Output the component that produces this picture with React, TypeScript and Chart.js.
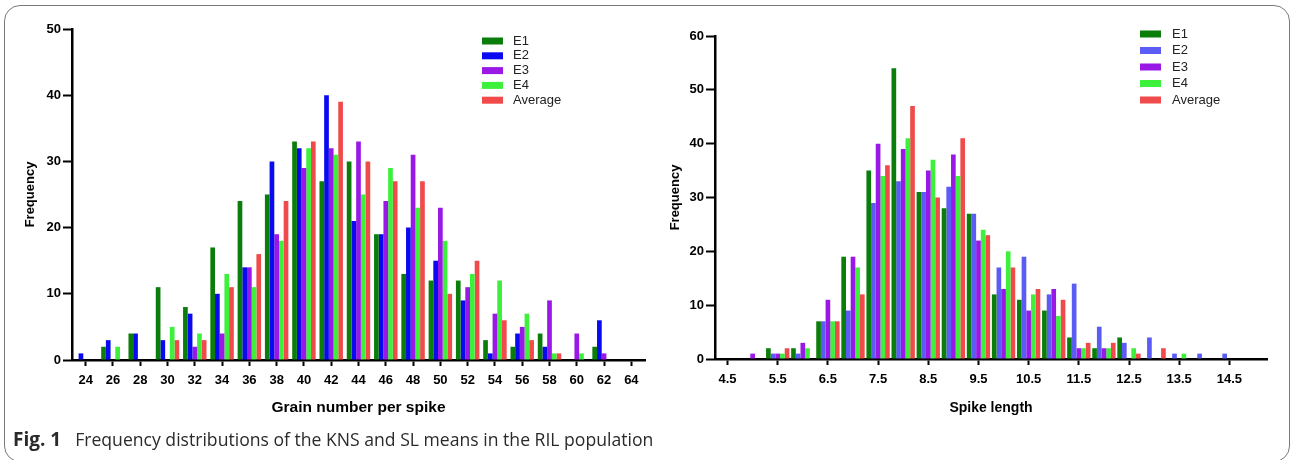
import React, { useEffect, useRef } from 'react';
import { Chart, registerables } from 'chart.js';

Chart.register(...registerables);

// ---------- Data: grain number per spike (KNS) ----------
const kernelCategories = ['24', '26', '28', '30', '32', '34', '36', '38', '40', '42', '44', '46', '48', '50', '52', '54', '56', '58', '60', '62', '64'];
const kernelE1 = [0, 2, 4, 11, 8, 17, 24, 25, 33, 27, 30, 19, 13, 12, 12, 3, 2, 4, 0, 2, 0];
const kernelE2 = [1, 3, 4, 3, 7, 10, 14, 30, 32, 40, 21, 19, 20, 15, 9, 1, 4, 2, 0, 6, 0];
const kernelE3 = [0, 0, 0, 0, 2, 4, 14, 19, 29, 32, 33, 24, 31, 23, 11, 7, 5, 9, 4, 1, 0];
const kernelE4 = [0, 2, 0, 5, 4, 13, 11, 18, 32, 31, 25, 29, 23, 18, 13, 12, 7, 1, 1, 0, 0];
const kernelAvg = [0, 0, 0, 3, 3, 11, 16, 24, 33, 39, 30, 27, 27, 10, 15, 6, 3, 1, 0, 0, 0];

// ---------- Data: spike length (SL) ----------
const spikeCategories = ['4.5', '5.0', '5.5', '6.0', '6.5', '7.0', '7.5', '8.0', '8.5', '9.0', '9.5', '10.0', '10.5', '11.0', '11.5', '12.0', '12.5', '13.0', '13.5', '14.0', '14.5', '15.0'];
const spikeE1 = [0, 0, 2, 2, 7, 19, 35, 54, 31, 28, 27, 12, 11, 9, 4, 2, 4, 0, 0, 0, 0, 0];
const spikeE2 = [0, 0, 1, 1, 7, 9, 29, 33, 31, 32, 27, 17, 19, 12, 14, 6, 3, 4, 1, 1, 1, 0];
const spikeE3 = [0, 1, 1, 3, 11, 19, 40, 39, 35, 38, 22, 13, 9, 13, 2, 2, 0, 0, 0, 0, 0, 0];
const spikeE4 = [0, 0, 1, 2, 7, 17, 34, 41, 37, 34, 24, 20, 12, 8, 2, 2, 2, 0, 1, 0, 0, 0];
const spikeAvg = [0, 0, 2, 0, 7, 12, 36, 47, 30, 41, 23, 17, 13, 11, 3, 3, 1, 2, 0, 0, 0, 0];

const seriesNames = ['E1', 'E2', 'E3', 'E4', 'Average'];
const kernelColors = ['#0a7d0a', '#0a0af0', '#9a18e6', '#3cf03c', '#f04a4a'];
const spikeColors = ['#0a7d0a', '#5b5bf5', '#9a18e6', '#3cf03c', '#f04a4a'];

const captionBold = 'Fig. 1';
const captionText = 'Frequency distributions of the KNS and SL means in the RIL population';

const FAMILY = '"Liberation Sans", Arial, sans-serif';

const boxLegend = {
  id: 'boxLegend',
  afterDraw(chart: any, _args: any, opts: any) {
    const { ctx } = chart;
    ctx.save();
    ctx.font = opts.font;
    ctx.textBaseline = 'middle';
    ctx.textAlign = 'left';
    chart.data.datasets.forEach((ds: any, i: number) => {
      const y = opts.y + i * opts.spacing;
      ctx.fillStyle = ds.backgroundColor;
      ctx.fillRect(opts.x, y - opts.boxH / 2, opts.boxW, opts.boxH);
      ctx.fillStyle = opts.color;
      ctx.fillText(ds.label, opts.x + opts.textGap, y);
    });
    ctx.restore();
  },
};

function makeConfig(p: {
  labels: string[];
  series: number[][];
  colors: string[];
  yMax: number;
  xTitle: string;
  xTitleSize: number;
  everyOther: boolean;
  catPct: number;
  padding: any;
  yWidth: number;
  xHeight: number;
  yTitlePad: number;
  legend: any;
}) {
  const tickFont = { family: FAMILY, size: 13, weight: 'bold' as const };
  return {
    type: 'bar' as const,
    data: {
      labels: p.labels,
      datasets: p.series.map((d, i) => ({
        label: seriesNames[i],
        data: d,
        backgroundColor: p.colors[i],
        borderWidth: 0,
        barPercentage: 1,
        categoryPercentage: p.catPct,
      })),
    },
    options: {
      animation: false as const,
      responsive: false,
      layout: { padding: p.padding },
      plugins: {
        legend: { display: false },
        tooltip: { enabled: false },
        boxLegend: p.legend,
      },
      scales: {
        x: {
          offset: true,
          grid: {
            offset: false,
            drawOnChartArea: false,
            tickLength: 6,
            tickWidth: 2,
            tickColor: (ctx: any) => (!p.everyOther || ctx.index % 2 === 0 ? '#000' : 'rgba(0,0,0,0)'),
          },
          border: { color: '#000', width: 2.5 },
          ticks: {
            autoSkip: false,
            maxRotation: 0,
            padding: 7,
            color: '#000',
            font: tickFont,
            callback: function (this: any, _v: any, i: number) {
              if (p.everyOther && i % 2 !== 0) return '';
              return p.labels[i];
            },
          },
          title: {
            display: true,
            text: p.xTitle,
            color: '#000',
            font: { family: FAMILY, size: p.xTitleSize, weight: 'bold' as const },
            padding: { top: 4, bottom: 13 },
          },
          afterFit: (scale: any) => {
            scale.height = p.xHeight;
          },
        },
        y: {
          min: 0,
          max: p.yMax,
          grid: { drawOnChartArea: false, tickLength: 9, tickWidth: 2, tickColor: '#000' },
          border: { color: '#000', width: 2.5 },
          ticks: { stepSize: 10, padding: 2, color: '#000', font: tickFont },
          title: {
            display: true,
            text: 'Frequency',
            color: '#000',
            font: { family: FAMILY, size: 13, weight: 'bold' as const },
            padding: { top: p.yTitlePad, bottom: 0 },
          },
          afterFit: (scale: any) => {
            scale.width = p.yWidth;
          },
        },
      },
    },
    plugins: [boxLegend],
  };
}

function ChartCanvas({ config, left, top, width, height }: any) {
  const ref = useRef<HTMLCanvasElement | null>(null);
  useEffect(() => {
    const chart = new Chart(ref.current as HTMLCanvasElement, config as any);
    return () => chart.destroy();
  }, []);
  return (
    <canvas
      ref={ref}
      width={width}
      height={height}
      style={{ position: 'absolute', left, top, width, height }}
    />
  );
}

export default function App() {
  const legendFont = '13px "Liberation Sans", Arial, sans-serif';
  const leftConfig = makeConfig({
    labels: kernelCategories,
    series: [kernelE1, kernelE2, kernelE3, kernelE4, kernelAvg],
    colors: kernelColors,
    yMax: 50,
    xTitle: 'Grain number per spike',
    xTitleSize: 15.5,
    everyOther: false,
    catPct: 0.86,
    padding: { left: 0, top: 29, right: 15, bottom: 0 },
    yWidth: 72,
    xHeight: 70,
    yTitlePad: 23,
    legend: { x: 482, y: 41, spacing: 14.8, boxW: 21, boxH: 7, textGap: 31, font: legendFont, color: '#222' },
  });
  const rightConfig = makeConfig({
    labels: spikeCategories,
    series: [spikeE1, spikeE2, spikeE3, spikeE4, spikeAvg],
    colors: spikeColors,
    yMax: 60,
    xTitle: 'Spike length',
    xTitleSize: 14,
    everyOther: true,
    catPct: 0.93,
    padding: { left: 0, top: 36, right: 23, bottom: 0 },
    yWidth: 65,
    xHeight: 71,
    yTitlePad: 18,
    legend: { x: 490, y: 34, spacing: 16.5, boxW: 21, boxH: 7, textGap: 32, font: legendFont, color: '#222' },
  });

  return (
    <div style={{ position: 'fixed', left: 0, top: 0, width: 1290, height: 460, background: '#fff', overflow: 'hidden' }}>
      <div
        style={{
          position: 'absolute',
          left: 4,
          top: 5,
          width: 1286,
          height: 457,
          border: '1.5px solid #7a7a7a',
          borderRadius: 16,
          boxSizing: 'border-box',
        }}
      />
      <ChartCanvas config={leftConfig} left={0} top={0} width={660} height={430} />
      <ChartCanvas config={rightConfig} left={650} top={0} width={640} height={430} />
      <div
        style={{
          position: 'absolute',
          left: 13,
          top: 428,
          fontFamily: '"Open Sans", "Noto Sans", sans-serif',
          fontSize: 17.6,
          lineHeight: '22px',
          color: '#2a2a2a',
          whiteSpace: 'nowrap',
        }}
      >
        <span style={{ fontWeight: 'bold', fontSize: 19 }}>{captionBold}</span>
        <span style={{ marginLeft: 14 }}>{captionText}</span>
      </div>
    </div>
  );
}
